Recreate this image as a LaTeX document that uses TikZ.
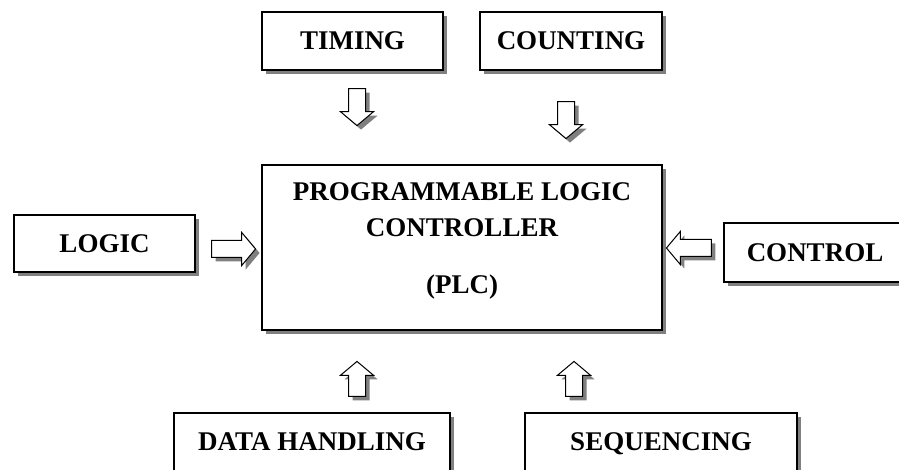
\documentclass[tikz,border=0pt]{standalone}
\usepackage{fontspec}
\setmainfont{Liberation Serif}
\usetikzlibrary{shapes.arrows,shadows}
\begin{document}
\begin{tikzpicture}[x=1pt,y=1pt,
  shd/.style={drop shadow={shadow xshift=4pt,shadow yshift=-4pt,fill=black!50,opacity=1}},
  blockbox/.style={draw=black,line width=1.6pt,fill=white,shd,inner sep=0pt,text depth=0pt,
    font=\fontsize{27}{32}\selectfont\bfseries},
  lbl/.style={inner sep=0pt,anchor=base,font=\fontsize{27}{32}\selectfont\bfseries},
  barrow/.style={single arrow,draw=black,line width=1pt,fill=white,shd,inner sep=8pt,
    minimum height=37pt,minimum width=32pt,single arrow head extend=8pt,
    single arrow tip angle=100,single arrow head indent=0pt}]
\useasboundingbox (0,0) rectangle (899,470);
% boxes
\node[blockbox,minimum width=181pt,minimum height=58pt] (timing) at (352.5,429) {TIMING};
\node[blockbox,minimum width=182pt,minimum height=58pt] (counting) at (571,429) {COUNTING};
\node[blockbox,minimum width=181pt,minimum height=57pt] (logic) at (104.5,226.5) {LOGIC};
\node[blockbox,minimum width=182pt,minimum height=59pt] (control) at (815,217.5) {CONTROL};
\node[blockbox,minimum width=400pt,minimum height=165pt] (plc) at (462,222.5) {};
\node[blockbox,minimum width=276pt,minimum height=58pt] (data) at (312,28) {DATA HANDLING};
\node[blockbox,minimum width=272pt,minimum height=58pt] (seq) at (661,28) {SEQUENCING};
% main text
\node[lbl] (l1) at (462,269) {PROGRAMMABLE LOGIC};
\node[lbl] (l2) at (462,233) {CONTROLLER};
\node[lbl] (l3) at (462,176) {(PLC)};
% block arrows
\node[barrow,shape border rotate=270] (a1) at (357,366.5) {};
\node[barrow,shape border rotate=270] (a2) at (566,353.5) {};
\node[barrow,minimum height=44pt] (a3) at (230,221) {};
\node[barrow,minimum height=45pt,shape border rotate=180] (a4) at (692.5,222) {};
\node[barrow,minimum height=35pt,shape border rotate=90] (a5) at (357,87.5) {};
\node[barrow,minimum height=35pt,shape border rotate=90] (a6) at (574,87.5) {};
\end{tikzpicture}
\end{document}
